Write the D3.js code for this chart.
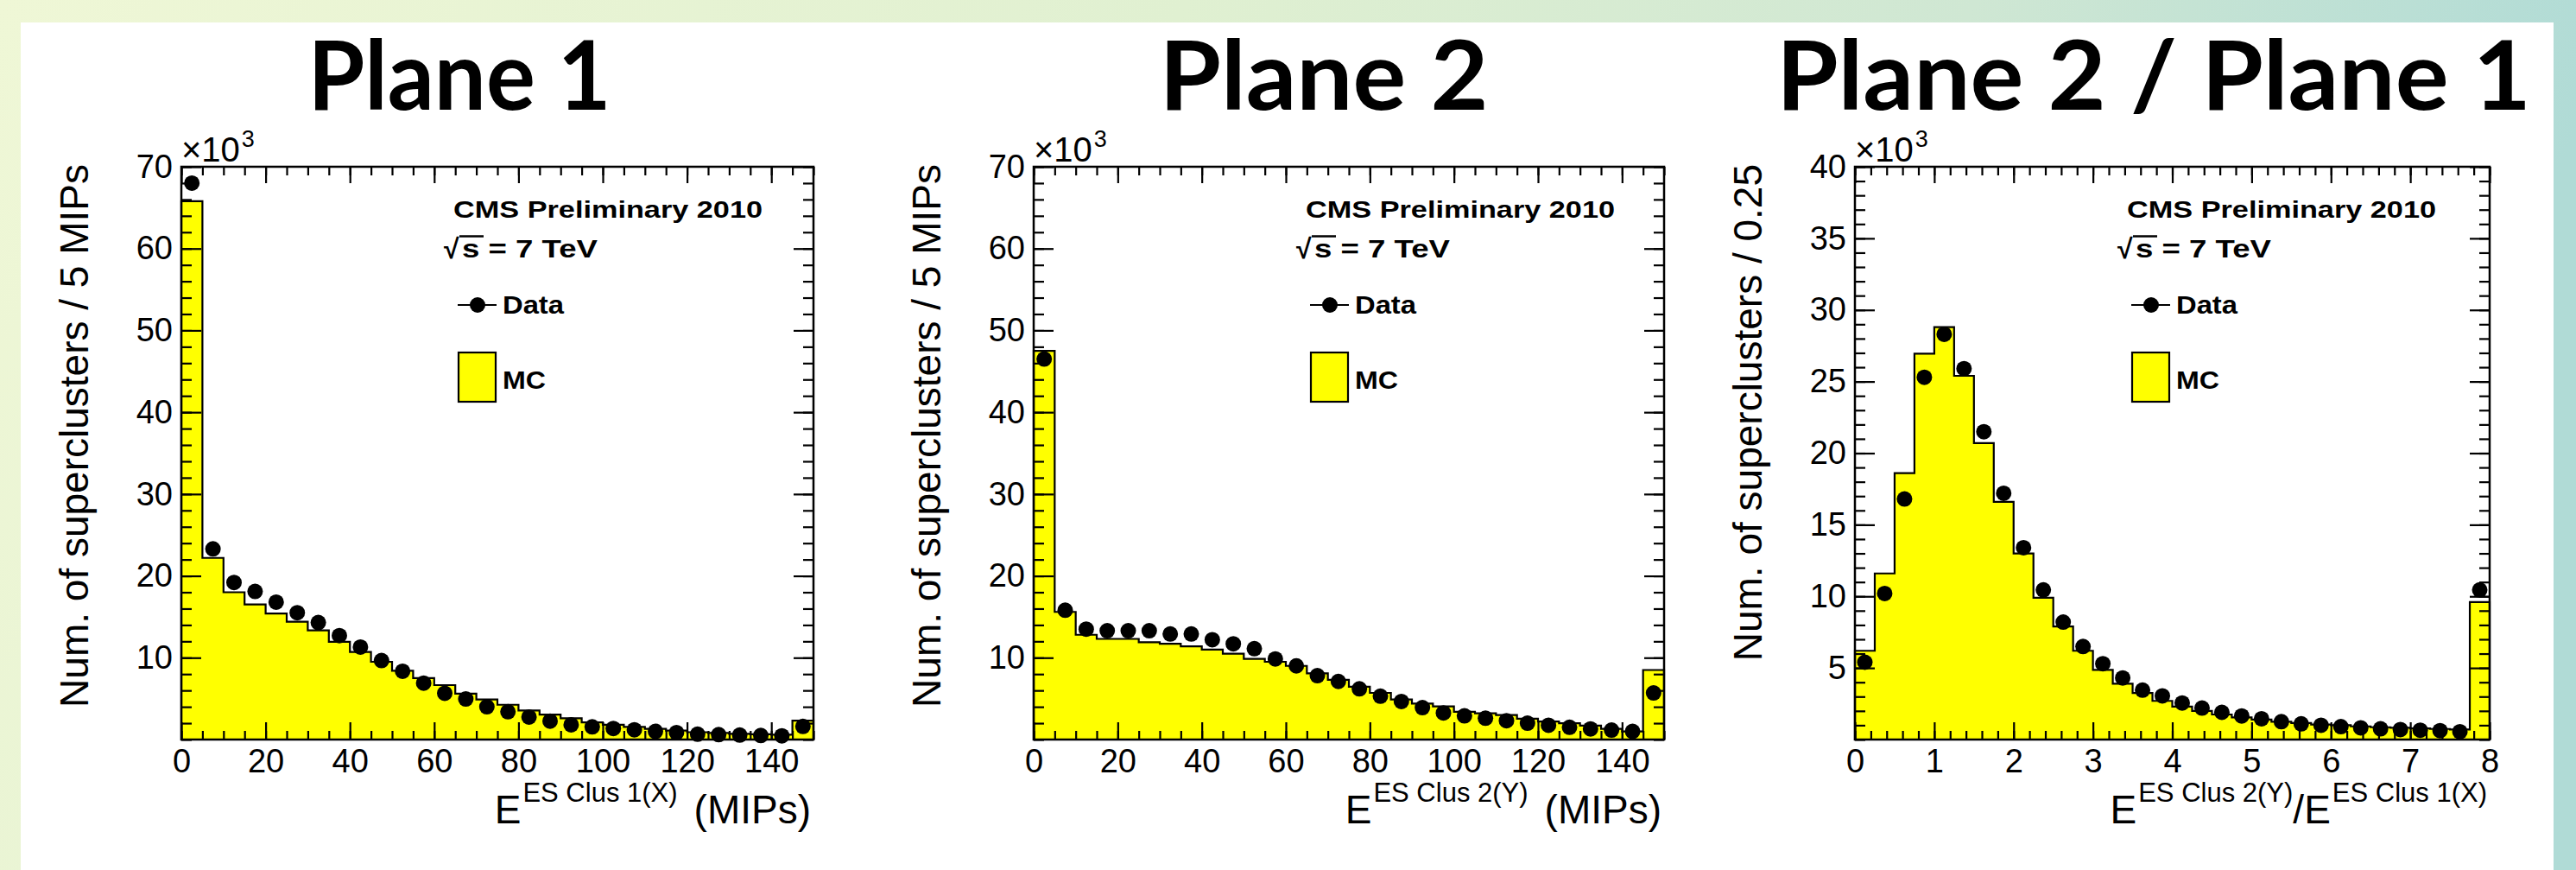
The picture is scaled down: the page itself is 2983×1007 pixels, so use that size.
<!DOCTYPE html>
<html><head><meta charset="utf-8">
<script src="https://cdn.jsdelivr.net/npm/d3@7"></script>
<style>html,body{margin:0;padding:0;overflow:hidden;background:#fff}</style>
</head><body>
<svg id="chart" width="2983" height="1007" xmlns="http://www.w3.org/2000/svg"></svg>
<script>
// ---------------- data (values in units of 10^3) ----------------
const titles = ["Plane 1", "Plane 2", "Plane 2 / Plane 1"];
const yTitles = ["Num. of superclusters / 5 MIPs", "Num. of superclusters / 5 MIPs", "Num. of superclusters / 0.25"];

const p1Mc   = [65.8, 22.2, 18.0, 16.5, 15.4, 14.4, 13.35, 11.95, 10.7, 9.5, 8.4, 7.5, 6.65, 5.6, 4.9, 4.25, 3.55, 3.05, 2.6, 2.1, 1.8, 1.55, 1.3, 1.1, 0.9, 0.8, 0.7, 0.65, 0.6, 2.3];
const p1Data = [68.0, 23.3, 19.2, 18.1, 16.8, 15.5, 14.3, 12.7, 11.3, 9.65, 8.35, 6.9, 5.65, 4.95, 4.0, 3.4, 2.75, 2.25, 1.8, 1.55, 1.35, 1.2, 1.0, 0.85, 0.65, 0.6, 0.55, 0.5, 0.45, 1.6];

const p2Mc   = [47.5, 15.6, 12.8, 12.3, 12.3, 11.9, 11.7, 11.4, 11.0, 10.5, 9.85, 9.5, 9.0, 8.1, 7.3, 6.45, 5.7, 4.9, 4.4, 4.05, 3.4, 3.2, 3.0, 2.55, 2.2, 2.0, 1.7, 1.3, 1.0, 8.5];
const p2Data = [46.5, 15.8, 13.5, 13.3, 13.3, 13.3, 12.9, 12.9, 12.2, 11.7, 11.1, 9.85, 9.0, 7.8, 7.1, 6.2, 5.3, 4.65, 3.9, 3.25, 2.9, 2.6, 2.3, 2.0, 1.75, 1.5, 1.3, 1.15, 1.0, 5.7];

const p3Mc   = [6.2, 11.6, 18.6, 26.95, 28.8, 25.4, 20.7, 16.6, 13.0, 9.9, 7.9, 6.2, 4.86, 3.9, 3.25, 2.7, 2.3, 2.0, 1.75, 1.55, 1.4, 1.25, 1.15, 1.05, 1.0, 0.92, 0.86, 0.82, 0.78, 0.74, 0.7, 9.6];
const p3Data = [5.4, 10.2, 16.8, 25.3, 28.3, 25.9, 21.5, 17.2, 13.4, 10.45, 8.2, 6.5, 5.3, 4.3, 3.45, 3.05, 2.55, 2.2, 1.9, 1.65, 1.45, 1.25, 1.1, 1.0, 0.9, 0.82, 0.75, 0.7, 0.65, 0.62, 0.55, 10.45];

const mipXTicks   = [0, 20, 40, 60, 80, 100, 120, 140];
const ratioXTicks = [0, 1, 2, 3, 4, 5, 6, 7, 8];
const mipYTicks   = [10, 20, 30, 40, 50, 60, 70];
const ratioYTicks = [5, 10, 15, 20, 25, 30, 35, 40];
const mipXDomain = [0, 150], ratioXDomain = [0, 8];
const mipBinWidth = 5, ratioBinWidth = 0.25;
const mipYMax = 70, ratioYMax = 40;

const legendLines = ["CMS Preliminary 2010", "s = 7 TeV", "Data", "MC"];
const xLabels = [
  [["E", 0], ["ES Clus 1(X)", 1], ["(MIPs)", 0]],
  [["E", 0], ["ES Clus 2(Y)", 1], ["(MIPs)", 0]],
  [["E", 0], ["ES Clus 2(Y)", 1], ["/E", 0], ["ES Clus 1(X)", 1]]
];

// ---------------- layout ----------------
const W = 2983, H = 1007;
const TOP = 193, BOTTOM = 856;
const ROOTFONT = "'Liberation Sans', Arial, Helvetica, sans-serif";

const panels = [
  {left: 210,  right: 942,  titleX: 532,  titleLen: 351, mc: p1Mc, data: p1Data, xDomain: mipXDomain, bin: mipBinWidth,
   xTicks: mipXTicks, xMinor: 5, yMax: mipYMax, yTicks: mipYTicks, yMinor: 2},
  {left: 1197, right: 1927, titleX: 1533, titleLen: 381, mc: p2Mc, data: p2Data, xDomain: mipXDomain, bin: mipBinWidth,
   xTicks: mipXTicks, xMinor: 5, yMax: mipYMax, yTicks: mipYTicks, yMinor: 2},
  {left: 2148, right: 2883, titleX: 2494, titleLen: 874, mc: p3Mc, data: p3Data, xDomain: ratioXDomain, bin: ratioBinWidth,
   xTicks: ratioXTicks, xMinor: 0.2, yMax: ratioYMax, yTicks: ratioYTicks, yMinor: 1}
];

const svg = d3.select("#chart");
const defs = svg.append("defs");
const grad = defs.append("linearGradient").attr("id", "bg")
  .attr("x1", "0").attr("y1", "0").attr("x2", "1").attr("y2", "0.15");
[["0%", "#eff7d6"], ["45%", "#e0f0d1"], ["75%", "#cfe7d3"], ["100%", "#b0dbd6"]]
  .forEach(([o, c]) => grad.append("stop").attr("offset", o).attr("stop-color", c));
svg.append("rect").attr("width", W).attr("height", H).attr("fill", "url(#bg)");
svg.append("rect").attr("x", 24).attr("y", 26).attr("width", 2933).attr("height", H - 26).attr("fill", "#ffffff");

function rangeSteps(min, max, step) {
  const n = Math.round((max - min) / step);
  return d3.range(0, n + 1).map(i => +(min + i * step).toFixed(6));
}

panels.forEach((p, pi) => {
  const g = svg.append("g");
  const x = d3.scaleLinear().domain(p.xDomain).range([p.left, p.right]);
  const y = d3.scaleLinear().domain([0, p.yMax]).range([BOTTOM, TOP]);

  // title
  g.append("text")
    .attr("x", p.titleX).attr("y", 127)
    .attr("text-anchor", "middle")
    .attr("font-family", "Lato, 'Open Sans', sans-serif")
    .attr("font-weight", 700)
    .attr("font-size", 112)
    .attr("textLength", p.titleLen)
    .attr("lengthAdjust", "spacingAndGlyphs")
    .attr("fill", "#000")
    .text(titles[pi]);

  // MC histogram (filled step)
  const edges = p.mc.map((v, i) => p.xDomain[0] + i * p.bin);
  const pts = [[p.xDomain[0], 0]];
  p.mc.forEach((v, i) => { pts.push([edges[i], v]); pts.push([edges[i] + p.bin, v]); });
  pts.push([p.xDomain[1], 0]);
  const line = d3.line().x(d => x(d[0])).y(d => y(d[1]));
  g.append("path").attr("d", line(pts) + "Z")
    .attr("fill", "#ffff00").attr("stroke", "#000").attr("stroke-width", 2.2)
    .attr("stroke-linejoin", "miter");

  // data points
  g.append("g").selectAll("circle").data(p.data).join("circle")
    .attr("cx", (d, i) => x(p.xDomain[0] + (i + 0.5) * p.bin))
    .attr("cy", d => y(d))
    .attr("r", 9)
    .attr("fill", "#000");

  // axes (ticks inside the frame)
  const styleAxis = sel => {
    sel.select(".domain").remove();
    sel.selectAll(".tick line").attr("stroke", "#000").attr("stroke-width", 2.2);
    sel.selectAll("text").attr("font-family", ROOTFONT).attr("font-size", 38).attr("fill", "#000");
  };
  const xMinorVals = rangeSteps(p.xDomain[0], p.xDomain[1], p.xMinor);
  const yMinorVals = rangeSteps(0, p.yMax, p.yMinor);

  g.append("g").attr("transform", `translate(0,${BOTTOM})`)
    .call(d3.axisBottom(x).tickValues(xMinorVals).tickSize(-10).tickFormat("")).call(styleAxis);
  g.append("g").attr("transform", `translate(0,${BOTTOM})`)
    .call(d3.axisBottom(x).tickValues(p.xTicks).tickSize(-20).tickPadding(11).tickFormat(d3.format("d"))).call(styleAxis);
  g.append("g").attr("transform", `translate(0,${TOP})`)
    .call(d3.axisTop(x).tickValues(xMinorVals).tickSize(-10).tickFormat("")).call(styleAxis);
  g.append("g").attr("transform", `translate(0,${TOP})`)
    .call(d3.axisTop(x).tickValues(p.xTicks).tickSize(-19).tickFormat("")).call(styleAxis);

  g.append("g").attr("transform", `translate(${p.left},0)`)
    .call(d3.axisLeft(y).tickValues(yMinorVals).tickSize(-12).tickFormat("")).call(styleAxis);
  g.append("g").attr("transform", `translate(${p.left},0)`)
    .call(d3.axisLeft(y).tickValues(p.yTicks).tickSize(-23).tickPadding(10).tickFormat(d3.format("d"))).call(styleAxis);
  g.append("g").attr("transform", `translate(${p.right},0)`)
    .call(d3.axisRight(y).tickValues(yMinorVals).tickSize(-12).tickFormat("")).call(styleAxis);
  g.append("g").attr("transform", `translate(${p.right},0)`)
    .call(d3.axisRight(y).tickValues(p.yTicks).tickSize(-23).tickFormat("")).call(styleAxis);

  // frame
  g.append("rect").attr("x", p.left).attr("y", TOP)
    .attr("width", p.right - p.left).attr("height", BOTTOM - TOP)
    .attr("fill", "none").attr("stroke", "#000").attr("stroke-width", 2.5);

  // x10^3 multiplier
  const mult = g.append("text").attr("x", p.left).attr("y", 187)
    .attr("font-family", ROOTFONT).attr("font-size", 40).attr("fill", "#000");
  mult.append("tspan").text("\u00d710");
  mult.append("tspan").attr("font-size", 27).attr("dy", -17).attr("dx", 2).text("3");

  // y title (right aligned to top of axis)
  g.append("text")
    .attr("transform", `translate(${p.left - 108},${TOP - 3}) rotate(-90)`)
    .attr("text-anchor", "end")
    .attr("font-family", ROOTFONT).attr("font-size", 46).attr("fill", "#000")
    .text(yTitles[pi]);

  // x title (right aligned to end of axis)
  const xt = g.append("text")
    .attr("x", p.right - 3).attr("y", 953)
    .attr("text-anchor", "end")
    .attr("font-family", ROOTFONT).attr("font-size", 46).attr("fill", "#000");
  let raised = false;
  xLabels[pi].forEach(([txt, sup], k) => {
    const ts = xt.append("tspan").text(txt);
    if (sup) {
      ts.attr("font-size", 31).attr("dy", raised ? 0 : -25).attr("dx", 2);
      raised = true;
    } else {
      ts.attr("dy", raised ? 25 : 0);
      if (raised && txt.startsWith("(")) ts.attr("dx", 19);
      raised = false;
    }
  });

  // legend
  const L = p.left;
  g.append("text").attr("x", L + 315).attr("y", 252)
    .attr("font-family", ROOTFONT).attr("font-weight", 700).attr("font-size", 28)
    .attr("textLength", 358).attr("lengthAdjust", "spacingAndGlyphs").attr("fill", "#000")
    .text(legendLines[0]);
  g.append("text").attr("x", L + 304).attr("y", 299)
    .attr("font-family", ROOTFONT).attr("font-weight", 700).attr("font-size", 32).attr("fill", "#000")
    .text("\u221a");
  g.append("line").attr("x1", L + 322).attr("x2", L + 350).attr("y1", 273.5).attr("y2", 273.5)
    .attr("stroke", "#000").attr("stroke-width", 2.5);
  g.append("text").attr("x", L + 325).attr("y", 298)
    .attr("font-family", ROOTFONT).attr("font-weight", 700).attr("font-size", 29)
    .attr("textLength", 157).attr("lengthAdjust", "spacingAndGlyphs").attr("fill", "#000")
    .text(legendLines[1]);
  g.append("line").attr("x1", L + 320).attr("x2", L + 365).attr("y1", 353).attr("y2", 353)
    .attr("stroke", "#000").attr("stroke-width", 2.2);
  g.append("circle").attr("cx", L + 343).attr("cy", 353).attr("r", 9).attr("fill", "#000");
  g.append("text").attr("x", L + 372).attr("y", 363)
    .attr("font-family", ROOTFONT).attr("font-weight", 700).attr("font-size", 29)
    .attr("textLength", 71).attr("lengthAdjust", "spacingAndGlyphs").attr("fill", "#000")
    .text(legendLines[2]);
  g.append("rect").attr("x", L + 321).attr("y", 408).attr("width", 43).attr("height", 57)
    .attr("fill", "#ffff00").attr("stroke", "#000").attr("stroke-width", 2.2);
  g.append("text").attr("x", L + 372).attr("y", 450)
    .attr("font-family", ROOTFONT).attr("font-weight", 700).attr("font-size", 29)
    .attr("textLength", 50).attr("lengthAdjust", "spacingAndGlyphs").attr("fill", "#000")
    .text(legendLines[3]);
});
</script>
</body></html>
